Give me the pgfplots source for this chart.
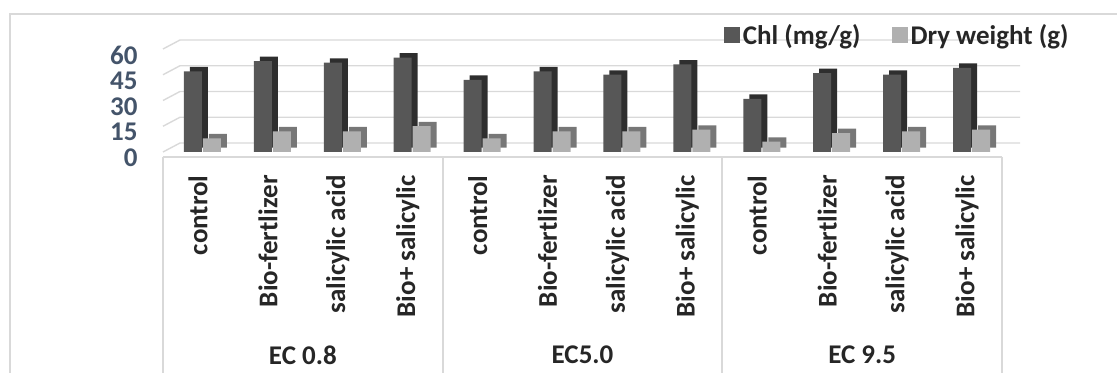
\documentclass[border=0pt]{standalone}
\usepackage{fontspec}
\setmainfont{Carlito}
\usepackage{pgfplots}
\pgfplotsset{compat=1.18}
\definecolor{chlfront}{HTML}{575757}
\definecolor{chlside}{HTML}{2E2E2E}
\definecolor{dwfront}{HTML}{B0B0B0}
\definecolor{dwside}{HTML}{777777}
\definecolor{gridc}{HTML}{D9D9D9}
\definecolor{ticklab}{RGB}{68,84,106}
\definecolor{labc}{HTML}{262626}
\newcommand{\lab}{\fontsize{13.5}{15}\selectfont\bfseries}
\begin{document}
\begin{tikzpicture}
\path[use as bounding box] (0pt,0pt) rectangle (558.5pt,-186.5pt);
\draw[gridc, line width=0.8pt] (5pt,-186.5pt) -- (5pt,-7pt) -- (558.5pt,-7pt);
\foreach \v in {0,15,30,45,60}{
  \pgfmathsetmacro{\yy}{-76+\v*51.5/60}
  \draw[gridc, line width=0.7pt] (81.5pt,\yy pt) -- (90pt,\yy pt+4.5pt) -- (510pt,\yy pt+4.5pt);
}
\draw[gridc, line width=0.7pt] (81.5pt,-78.5pt) -- (501pt,-78.5pt);
\foreach \x in {81.5,221.5,361,501}{
  \draw[gridc, line width=0.7pt] (\x pt,-78.5pt) -- (\x pt,-186.5pt);
}
\begin{axis}[
  at={(81.5pt,-76pt)}, anchor=south west, scale only axis,
  width=419.5pt, height=51.5pt,
  xmin=-0.5, xmax=11.5, ymin=0, ymax=60,
  ytick={0,15,30,45,60}, xtick=\empty,
  axis line style={draw=none}, tick style={draw=none},
  clip=false,
  /pgf/number format/assume math mode=true,
  yticklabel style={font=\lab, text=ticklab, inner sep=0pt, xshift=-12.5pt, yshift=-3pt},
  legend style={at={(1.0906,1.126)}, anchor=east, draw=none, fill=none,
    legend columns=2, font=\lab, text=labc,
    /tikz/every even column/.append style={column sep=14pt},
    nodes={inner sep=1.5pt}},
]
\addplot[ybar, bar width=9pt, bar shift=-2.5pt, fill=chlside, draw=none, xshift=3pt, yshift=2.2pt, forget plot]
  coordinates {(0,47) (1,53) (2,52) (3,55) (4,42) (5,47) (6,45) (7,51) (8,31) (9,46) (10,45) (11,49)};
\addplot[ybar, bar width=9pt, bar shift=-2.5pt, fill=chlfront, draw=none,
  legend image code/.code={\fill[chlfront] (0pt,-3.5pt) rectangle (8pt,4.5pt);}]
  coordinates {(0,47) (1,53) (2,52) (3,55) (4,42) (5,47) (6,45) (7,51) (8,31) (9,46) (10,45) (11,49)};
\addlegendentry{Chl (mg/g)}
\addplot[ybar, bar width=9pt, bar shift=7pt, fill=dwside, draw=none, xshift=3pt, yshift=2.2pt, forget plot]
  coordinates {(0,8) (1,12) (2,12) (3,15) (4,8) (5,12) (6,12) (7,13) (8,6) (9,11) (10,12) (11,13)};
\addplot[ybar, bar width=9pt, bar shift=7pt, fill=dwfront, draw=none,
  legend image code/.code={\fill[dwfront] (0pt,-3.5pt) rectangle (8pt,4.5pt);}]
  coordinates {(0,8) (1,12) (2,12) (3,15) (4,8) (5,12) (6,12) (7,13) (8,6) (9,11) (10,12) (11,13)};
\addlegendentry{Dry weight (g)}
\node[rotate=90, anchor=east, font=\lab, text=labc, inner sep=0pt] at ([yshift=-11.5pt]axis cs:0,0) {control};
\node[rotate=90, anchor=east, font=\lab, text=labc, inner sep=0pt] at ([yshift=-11.5pt]axis cs:1,0) {Bio-fertlizer};
\node[rotate=90, anchor=east, font=\lab, text=labc, inner sep=0pt] at ([yshift=-11.5pt]axis cs:2,0) {salicylic acid};
\node[rotate=90, anchor=east, font=\lab, text=labc, inner sep=0pt] at ([yshift=-11.5pt]axis cs:3,0) {Bio+ salicylic};
\node[rotate=90, anchor=east, font=\lab, text=labc, inner sep=0pt] at ([yshift=-11.5pt]axis cs:4,0) {control};
\node[rotate=90, anchor=east, font=\lab, text=labc, inner sep=0pt] at ([yshift=-11.5pt]axis cs:5,0) {Bio-fertlizer};
\node[rotate=90, anchor=east, font=\lab, text=labc, inner sep=0pt] at ([yshift=-11.5pt]axis cs:6,0) {salicylic acid};
\node[rotate=90, anchor=east, font=\lab, text=labc, inner sep=0pt] at ([yshift=-11.5pt]axis cs:7,0) {Bio+ salicylic};
\node[rotate=90, anchor=east, font=\lab, text=labc, inner sep=0pt] at ([yshift=-11.5pt]axis cs:8,0) {control};
\node[rotate=90, anchor=east, font=\lab, text=labc, inner sep=0pt] at ([yshift=-11.5pt]axis cs:9,0) {Bio-fertlizer};
\node[rotate=90, anchor=east, font=\lab, text=labc, inner sep=0pt] at ([yshift=-11.5pt]axis cs:10,0) {salicylic acid};
\node[rotate=90, anchor=east, font=\lab, text=labc, inner sep=0pt] at ([yshift=-11.5pt]axis cs:11,0) {Bio+ salicylic};
\node[font=\lab, text=labc] at ([yshift=-101.5pt]axis cs:1.5,0) {EC 0.8};
\node[font=\lab, text=labc] at ([yshift=-101.5pt]axis cs:5.5,0) {EC5.0};
\node[font=\lab, text=labc] at ([yshift=-101.5pt]axis cs:9.5,0) {EC 9.5};
\end{axis}
\end{tikzpicture}
\end{document}
